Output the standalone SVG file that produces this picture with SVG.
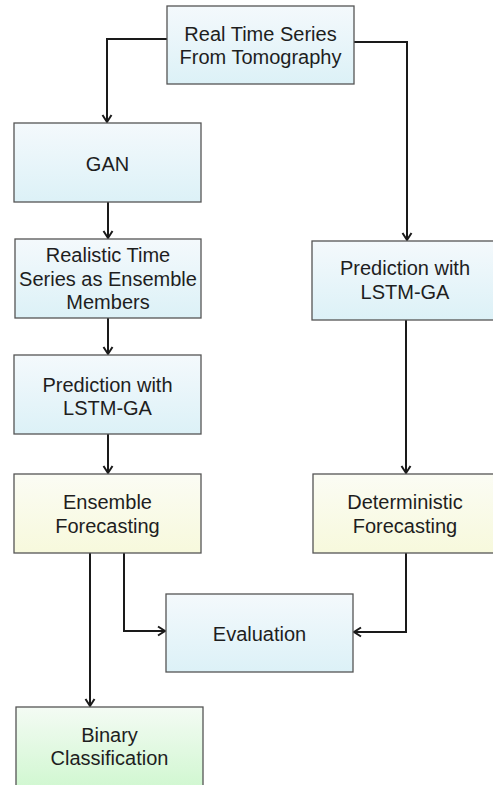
<svg xmlns="http://www.w3.org/2000/svg" width="493" height="785" viewBox="0 0 493 785">
<style>
.box{stroke:#555;stroke-width:1.3}
.b{fill:url(#gBlue)}
.y{fill:url(#gYel)}
.g{fill:url(#gGreen)}
text{font-family:"Liberation Sans",Arial,sans-serif;font-size:20px;fill:#1e1e1e;text-anchor:middle}
.c{fill:none;stroke:#1a1a1a;stroke-width:2;marker-end:url(#arr)}
</style>
<defs>
<linearGradient id="gBlue" x1="0" y1="0" x2="0" y2="1"><stop offset="0" stop-color="#f4f9fc"/><stop offset="1" stop-color="#dcf1f7"/></linearGradient>
<linearGradient id="gYel" x1="0" y1="0" x2="0" y2="1"><stop offset="0" stop-color="#fbfcf4"/><stop offset="1" stop-color="#f7f9dc"/></linearGradient>
<linearGradient id="gGreen" x1="0" y1="0" x2="0" y2="1"><stop offset="0" stop-color="#f4fbf4"/><stop offset="1" stop-color="#cff7cf"/></linearGradient>
<marker id="arr" markerWidth="12" markerHeight="12" refX="9" refY="6" orient="auto" markerUnits="userSpaceOnUse">
<path d="M2,1.5 L9,6 L2,10.5" fill="none" stroke="#1a1a1a" stroke-width="2"/>
</marker>
</defs>
<g id="connectors">
<path class="c" d="M167,39 H107 V122"/>
<path class="c" d="M354,42 H407 V240"/>
<path class="c" d="M108,202 V238"/>
<path class="c" d="M108,318 V354"/>
<path class="c" d="M108,434 V473"/>
<path class="c" d="M406,320 V473"/>
<path class="c" d="M124,553 V631 H165"/>
<path class="c" d="M406,553 V632 H354"/>
<path class="c" d="M90,553 V706"/>
</g>
<g id="n-real"><rect class="box b" x="167" y="6" width="187" height="78"/><text x="260.5" y="41">Real Time Series</text><text x="260.5" y="64">From Tomography</text></g>
<g id="n-gan"><rect class="box b" x="14" y="123" width="187" height="79"/><text x="107.5" y="171">GAN</text></g>
<g id="n-realistic"><rect class="box b" x="15" y="239" width="186" height="79"/><text x="108" y="262">Realistic Time</text><text x="108" y="286">Series as Ensemble</text><text x="108" y="309">Members</text></g>
<g id="n-pred-left"><rect class="box b" x="14" y="355" width="187" height="79"/><text x="107.5" y="392">Prediction with</text><text x="107.5" y="415">LSTM-GA</text></g>
<g id="n-pred-right"><rect class="box b" x="312" y="241" width="187" height="79"/><text x="405" y="275">Prediction with</text><text x="405" y="299">LSTM-GA</text></g>
<g id="n-ensemble"><rect class="box y" x="14" y="474" width="187" height="79"/><text x="107.5" y="509">Ensemble</text><text x="107.5" y="533">Forecasting</text></g>
<g id="n-deterministic"><rect class="box y" x="313" y="474" width="187" height="79"/><text x="405" y="509">Deterministic</text><text x="405" y="533">Forecasting</text></g>
<g id="n-eval"><rect class="box b" x="166" y="594" width="187" height="78"/><text x="259.5" y="641">Evaluation</text></g>
<g id="n-binary"><rect class="box g" x="16" y="707" width="187" height="85"/><text x="109.5" y="742">Binary</text><text x="109.5" y="765">Classification</text></g>
</svg>
